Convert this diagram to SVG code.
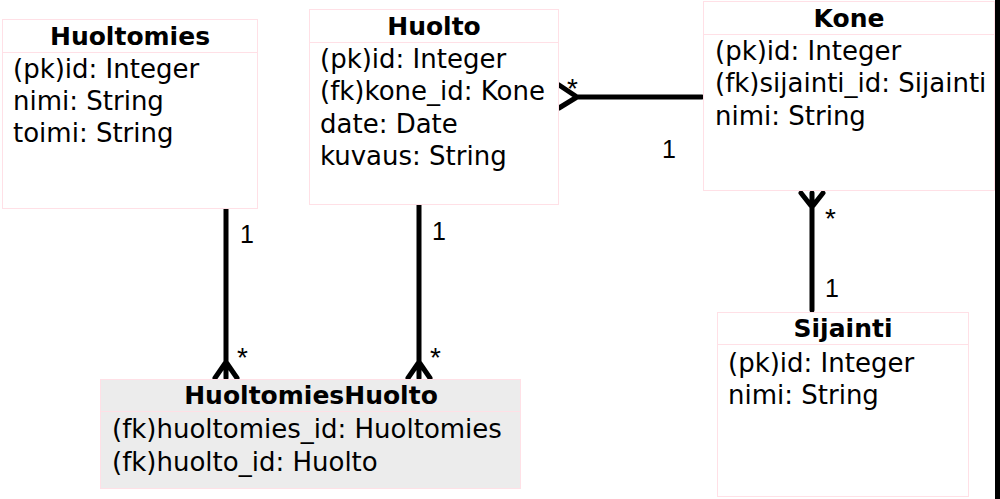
<svg xmlns="http://www.w3.org/2000/svg" width="1000" height="499" viewBox="0 0 1000 499">
<style>
.box{fill:#fff;stroke:#ffe0e6;stroke-width:1}
.boxg{fill:#ececec;stroke:#ffe0e6;stroke-width:1}
.div{stroke:#ffe0e6;stroke-width:1}
.t{font-family:"DejaVu Sans","Open Sans",sans-serif;font-size:26px;fill:#000}
.h{font-family:"DejaVu Sans","Open Sans",sans-serif;font-size:25px;font-weight:bold;fill:#000;text-anchor:middle}
.c{stroke:#000;stroke-width:5;fill:none;stroke-linecap:round;stroke-linejoin:round}
.l{font-family:"Liberation Sans",Arial,sans-serif;font-size:25px;fill:#000}
.s{font-family:"Liberation Sans",Arial,sans-serif;font-size:28px;fill:#000}
</style>
<rect x="0" y="0" width="1000" height="499" fill="#fff"/>
<rect x="995" y="0" width="5" height="499" fill="#000"/>
<g id="connectors">
<path class="c" d="M226,209 V378 M215,378 L226,362 L237,378"/>
<path class="c" d="M419,205 V378 M408,378 L419,362 L430,378"/>
<path class="c" d="M702,97 H577 M559,85 L577,97 L559,108"/>
<path class="c" d="M812,193 V310 M801,193 L812,207 L823,193"/>
<text class="l" x="240" y="243">1</text>
<text class="s" x="237" y="367">*</text>
<text class="l" x="432" y="240">1</text>
<text class="s" x="430" y="367">*</text>
<text class="s" x="567" y="98">*</text>
<text class="l" x="662" y="158">1</text>
<text class="s" x="825" y="228">*</text>
<text class="l" x="825" y="297">1</text>
</g>
<g id="Huoltomies">
<rect class="box" x="2.5" y="19.5" width="255" height="189"/>
<line class="div" x1="2.5" y1="52.5" x2="257.5" y2="52.5"/>
<text class="h" x="130" y="45">Huoltomies</text>
<text class="t" x="13" y="78">(pk)id: Integer</text>
<text class="t" x="13" y="110">nimi: String</text>
<text class="t" x="13" y="142">toimi: String</text>
</g>
<g id="Huolto">
<rect class="box" x="309.5" y="9.5" width="249" height="195"/>
<line class="div" x1="309.5" y1="42.5" x2="558.5" y2="42.5"/>
<text class="h" x="434" y="35">Huolto</text>
<text class="t" x="320" y="68">(pk)id: Integer</text>
<text class="t" x="320" y="100">(fk)kone_id: Kone</text>
<text class="t" x="320" y="133">date: Date</text>
<text class="t" x="320" y="165">kuvaus: String</text>
</g>
<g id="Kone">
<rect class="box" x="703.5" y="1.5" width="291" height="189"/>
<line class="div" x1="703.5" y1="34.5" x2="994.5" y2="34.5"/>
<text class="h" x="849" y="27">Kone</text>
<text class="t" x="715" y="60">(pk)id: Integer</text>
<text class="t" x="715" y="92">(fk)sijainti_id: Sijainti</text>
<text class="t" x="715" y="125">nimi: String</text>
</g>
<g id="HuoltomiesHuolto">
<rect class="boxg" x="100.5" y="379.5" width="420" height="109"/>
<line class="div" x1="100.5" y1="411.5" x2="520.5" y2="411.5"/>
<text class="h" x="311" y="404">HuoltomiesHuolto</text>
<text class="t" x="112" y="438">(fk)huoltomies_id: Huoltomies</text>
<text class="t" x="112" y="471">(fk)huolto_id: Huolto</text>
</g>
<g id="Sijainti">
<rect class="box" x="717.5" y="312.5" width="251" height="184"/>
<line class="div" x1="717.5" y1="344.5" x2="968.5" y2="344.5"/>
<text class="h" x="843" y="337">Sijainti</text>
<text class="t" x="728" y="372">(pk)id: Integer</text>
<text class="t" x="728" y="404">nimi: String</text>
</g>
</svg>
